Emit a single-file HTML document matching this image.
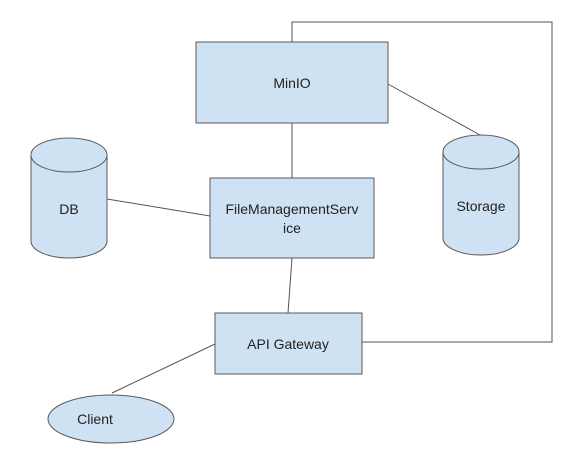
<!DOCTYPE html>
<html><head><style>body{margin:0;background:#fff}svg{display:block}text{font-family:"Liberation Sans",sans-serif;font-size:14px;fill:#222}</style></head>
<body>
<svg width="586" height="462" viewBox="0 0 586 462">
<g stroke="#555" stroke-width="1" fill="none">
<polyline points="292,42 292,22 552,22 552,342 362,342"/>
<line x1="292" y1="123" x2="292" y2="178"/>
<line x1="388" y1="84" x2="480" y2="135"/>
<line x1="107" y1="199" x2="210" y2="216"/>
<line x1="292" y1="258" x2="288" y2="313"/>
<line x1="215" y1="344" x2="112" y2="393"/>
</g>
<g fill="#cfe2f3" stroke="#595959" stroke-width="1">
<rect x="196" y="42" width="192" height="81"/>
<rect x="210" y="178" width="164" height="80"/>
<rect x="215" y="313" width="147" height="61"/>
<path d="M31,155 v86 a38,17 0 0 0 76,0 v-86"/>
<ellipse cx="69" cy="155" rx="38" ry="17"/>
<path d="M443,152 v86 a38,17 0 0 0 76,0 v-86"/>
<ellipse cx="481" cy="152" rx="38" ry="17"/>
<ellipse cx="111" cy="419" rx="63" ry="24"/>
</g>
<g text-anchor="middle">
<text x="292" y="88">MinIO</text>
<text x="292" y="214">FileManagementServ</text>
<text x="292" y="233">ice</text>
<text x="288" y="349">API Gateway</text>
<text x="69" y="214">DB</text>
<text x="481" y="211">Storage</text>
<text x="95" y="424">Client</text>
</g>
</svg>
</body></html>
